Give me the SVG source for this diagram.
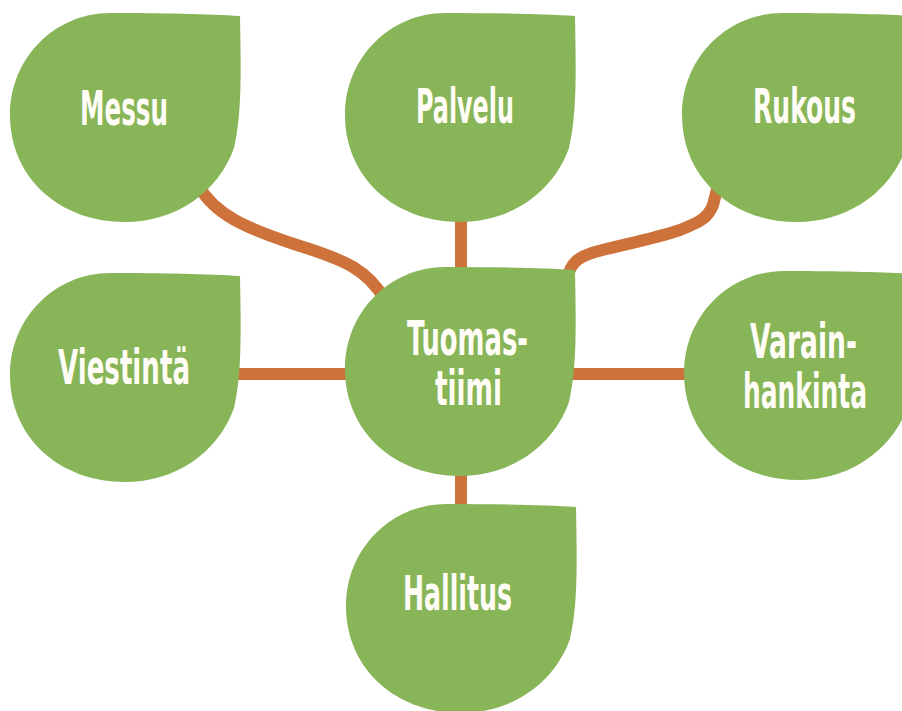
<svg xmlns="http://www.w3.org/2000/svg" width="902" height="711" viewBox="0 0 902 711">
<defs>
<style>
.leaf{fill:#88B558;}
.conn{fill:none;stroke:#CD723A;stroke-width:12;stroke-linecap:butt;stroke-linejoin:round;}
.lbl{font-family:"Liberation Sans Narrow","DejaVu Sans Condensed","Liberation Sans",sans-serif;font-weight:bold;font-size:48px;fill:#FFFDF5;}
</style>
<path id="leafShape" d="M 230,3 C 231,60 232,100 224,135 C 208,180 165,209 115,209 C 50,209 0,165 0,102 C 0,45 45,0 100,0 C 150,0 200,1 230,3 Z"/>
</defs>
<rect width="902" height="711" fill="#FFFFFF"/>
<g id="connectors">
<path class="conn" d="M 198,185 C 215,215 245,228 300,246 C 345,260 368,270 385,300"/>
<path class="conn" d="M 720,178 L 713,205 C 708,218 700,222 680,230 C 650,240 620,245 595,252 C 578,257 570,263 567,280"/>
<path class="conn" d="M 461,210 L 461,280"/>
<path class="conn" d="M 461,465 L 461,515"/>
<path class="conn" d="M 230,374 L 355,374"/>
<path class="conn" d="M 565,374 L 695,374"/>
</g>
<g id="messu">
<use href="#leafShape" class="leaf" transform="translate(10,13)"/>
<text class="lbl" x="80" y="125" textLength="88" lengthAdjust="spacingAndGlyphs">Messu</text>
</g>
<g id="palvelu">
<use href="#leafShape" class="leaf" transform="translate(345,13)"/>
<text class="lbl" x="416" y="123" textLength="98" lengthAdjust="spacingAndGlyphs">Palvelu</text>
</g>
<g id="rukous">
<use href="#leafShape" class="leaf" transform="translate(682,13)"/>
<text class="lbl" x="753" y="123" textLength="103" lengthAdjust="spacingAndGlyphs">Rukous</text>
</g>
<g id="viestinta">
<use href="#leafShape" class="leaf" transform="translate(10,273)"/>
<text class="lbl" x="58" y="384" textLength="132" lengthAdjust="spacingAndGlyphs">Viestintä</text>
</g>
<g id="tuomastiimi">
<use href="#leafShape" class="leaf" transform="translate(345,267)"/>
<text class="lbl" x="407" y="355" textLength="121" lengthAdjust="spacingAndGlyphs">Tuomas-</text>
<text class="lbl" x="435" y="405" textLength="67" lengthAdjust="spacingAndGlyphs">tiimi</text>
</g>
<g id="varainhankinta">
<use href="#leafShape" class="leaf" transform="translate(684,271)"/>
<text class="lbl" x="750" y="358" textLength="107" lengthAdjust="spacingAndGlyphs">Varain-</text>
<text class="lbl" x="743" y="408" textLength="124" lengthAdjust="spacingAndGlyphs">hankinta</text>
</g>
<g id="hallitus">
<use href="#leafShape" class="leaf" transform="translate(346,504)"/>
<text class="lbl" x="403" y="610" textLength="109" lengthAdjust="spacingAndGlyphs">Hallitus</text>
</g>
</svg>
